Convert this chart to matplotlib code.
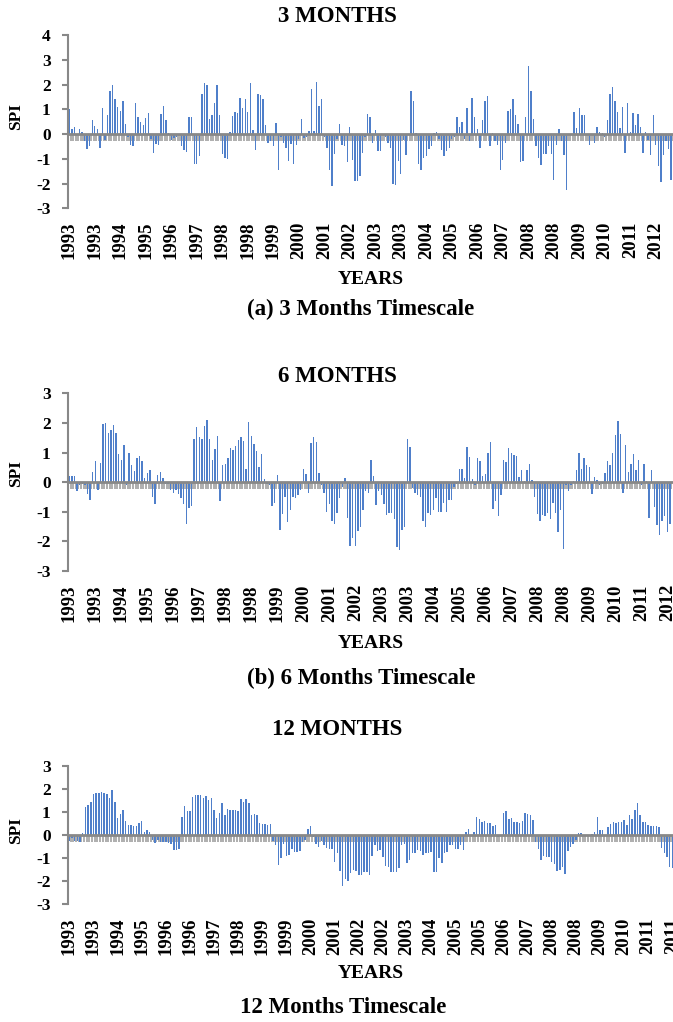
import matplotlib
matplotlib.use('Agg')
import matplotlib.pyplot as plt
import numpy as np

plt.rcParams['font.family'] = ['Liberation Serif', 'DejaVu Serif']
plt.rcParams['font.weight'] = 'bold'
plt.rcParams['axes.unicode_minus'] = False

# ---- data (monthly SPI values) ----
spi3 = [1.0, 0.2, 0.3, -0.05, 0.2, 0.1, -0.3, -0.6, -0.5, 0.55,
        0.33, 0.2, -0.55, 1.05, -0.25, 0.75, 1.75, 2.0, 1.4, 1.1,
        0.95, 1.35, 0.4, -0.1, -0.45, -0.5, 1.25, 0.7, 0.5, 0.35,
        0.65, 0.85, -0.2, -0.75, -0.4, -0.45, 0.8, 1.15, 0.55, 0.05,
        -0.25, -0.15, -0.1, -0.05, -0.5, -0.65, -0.72, 0.68, 0.7, -1.2,
        -1.2, -0.9, 1.6, 2.05, 2.0, 0.6, 0.75, 1.25, 2.0, 0.78,
        -0.8, -0.95, -1.0, 0.1, 0.72, 0.9, 0.85, 1.45, 1.05, 1.4,
        0.9, 2.05, 0.15, -0.65, 1.6, 1.58, 1.4, 0.38, -0.38, -0.3,
        -0.5, 0.45, -1.45, -0.1, -0.35, -0.55, -1.1, -0.4, -1.2, -0.45,
        -0.2, 0.62, -0.15, -0.1, 0.12, 1.8, 0.12, 2.12, 1.15, 1.4,
        -0.1, -0.55, -1.45, -2.1, -0.8, -0.2, 0.4, -0.45, -0.5, -1.15,
        0.3, -1.05, -1.9, -1.9, -1.7, -0.75, -0.1, 0.8, 0.7, -0.35,
        0.15, -0.7, -0.7, -0.05, -0.1, -0.35, -0.55, -2.0, -2.05, -1.1,
        -1.6, -0.25, -0.85, -0.05, 1.75, 1.35, 0.05, -1.2, -1.45, -0.95,
        -0.9, -0.6, -0.5, 0.05, 0.1, -0.2, -0.65, -0.9, -0.7, -0.55,
        -0.2, -0.1, 0.68, 0.3, 0.5, -0.2, 1.05, -0.3, 1.45, 0.7,
        0.2, -0.55, 0.55, 1.35, 1.55, -0.5, 0.05, -0.3, -0.45, -1.45,
        -1.05, -0.35, 0.95, 1.0, 1.4, 0.75, 0.42, -1.15, -1.1, 0.7,
        2.75, 1.75, 0.6, -0.5, -0.95, -1.25, -0.8, -0.8, -0.5, -0.8,
        -1.85, -0.45, 0.22, -0.3, -0.85, -2.25, -0.05, 0.0, 0.9, 0.25,
        1.05, 0.75, 0.75, -0.05, -0.45, -0.05, -0.35, 0.3, 0.1, 0.05,
        -0.1, 0.55, 1.6, 1.9, 1.35, 0.9, 0.25, 1.1, -0.75, 1.25,
        0.1, 0.85, 0.35, 0.8, 0.3, -0.75, 0.1, -0.25, -0.85, 0.78,
        -0.45, -1.3, -1.95, -0.85, -0.3, -0.6, -1.85]

spi6 = [0.2, 0.2, 0.2, -0.3, -0.1, -0.05, -0.1, -0.4, -0.6, 0.35,
        0.72, -0.25, 0.65, 1.97, 2.0, 1.65, 1.77, 1.92, 1.65, 0.95,
        0.75, 1.25, -0.1, 1.0, 0.57, 0.38, 0.83, 0.88, 0.7, 0.15,
        0.3, 0.4, -0.5, -0.75, 0.25, 0.35, 0.15, -0.05, -0.05, -0.25,
        -0.35, -0.25, -0.4, -0.55, -0.75, -1.4, -0.88, -0.8, 1.45, 1.87,
        1.52, 1.45, 1.9, 2.1, 1.45, 0.75, 1.12, 1.55, -0.65, 0.57,
        0.6, 0.8, 1.15, 1.08, 1.23, 1.42, 1.53, 1.4, 0.45, 2.02,
        1.55, 1.3, 1.05, 0.5, 0.95, 0.1, -0.05, -0.1, -0.8, -0.7,
        0.25, -1.6, -1.08, -0.5, -1.35, -0.95, -0.5, -0.55, -0.45, -0.25,
        0.45, 0.27, -0.35, 1.32, 1.52, 1.37, 0.3, -0.1, -0.35, -1.0,
        -0.75, -1.3, -1.4, -1.05, -0.55, -0.15, 0.15, -1.2, -2.15, -1.9,
        -2.15, -1.65, -1.5, -0.95, -0.3, -0.35, 0.75, 0.2, -0.78, -0.3,
        -0.45, -0.75, -1.1, -1.05, -1.05, -1.25, -2.2, -2.3, -1.6, -1.5,
        1.45, 1.2, -0.2, -0.35, -0.45, -0.5, -1.3, -1.5, -1.05, -1.1,
        -0.95, -0.55, -1.0, -1.0, -0.7, -1.0, -0.6, -0.6, -0.15, -0.05,
        0.45, 0.45, 0.15, 1.2, 0.85, 0.12, -0.1, 0.83, 0.73, 0.22,
        0.28, 1.0, 1.35, -0.92, -0.65, -1.15, -0.45, 0.75, 0.68, 1.15,
        1.0, 0.92, 0.88, 0.17, 0.4, 0.05, 0.4, 0.62, 0.08, -0.5,
        -1.08, -1.3, -1.1, -1.15, -1.05, -1.25, -0.7, -1.05, -1.7, -0.95,
        -2.25, -0.1, -0.3, -0.1, 0.05, 0.4, 1.0, 0.43, 0.82, 0.58,
        0.52, -0.4, 0.17, 0.07, -0.1, -0.05, 0.3, 0.7, 0.58, 1.0,
        1.6, 2.05, 1.62, -0.35, 1.25, 0.35, 0.62, 0.95, 0.42, 0.75,
        -0.1, 0.6, 0.05, -1.2, 0.42, -0.85, -1.45, -1.8, -1.3, -1.15,
        -1.7, -1.4]

spi12 = [-0.25, -0.15, -0.25, -0.25, -0.3, 0.1, 1.2, 1.32, 1.45, 1.77,
         1.8, 1.82, 1.85, 1.83, 1.77, 1.6, 1.95, 1.42, 0.72, 0.9,
         1.1, 0.62, 0.45, 0.45, 0.38, 0.38, 0.5, 0.6, 0.12, 0.2,
         0.15, -0.2, -0.35, -0.2, -0.3, -0.3, -0.3, -0.35, -0.4, -0.65,
         -0.65, -0.6, 0.8, 1.25, 1.05, 1.05, 1.65, 1.75, 1.75, 1.72,
         1.6, 1.7, 1.5, 1.62, 1.1, 0.72, 0.97, 1.4, 0.85, 1.13,
         1.1, 1.1, 1.1, 1.05, 1.57, 1.45, 1.58, 1.4, 0.85, 0.92,
         0.85, 0.53, 0.48, 0.48, 0.45, 0.47, -0.25, -0.45, -1.3, -1.0,
         -0.4, -0.9, -0.88, -0.6, -0.75, -0.72, -0.68, -0.3, -0.2, 0.25,
         0.4, -0.1, -0.4, -0.5, -0.25, -0.45, -0.55, -0.62, -0.6, -1.15,
         -0.8, -1.55, -2.2, -1.9, -2.0, -1.65, -1.5, -1.55, -1.75,
         -1.75, -1.6, -1.6, -1.75, -0.9, -0.45, -0.7, -0.65, -0.95, -1.35,
         -1.4, -1.6, -1.6, -1.6, -1.45, -0.45, -0.4, -1.2, -1.1, -0.8,
         -0.8, -0.65, -0.7, -0.85, -0.8, -0.78, -0.75, -1.6, -1.6, -1.0,
         -1.2, -0.8, -0.75, -0.45, -0.45, -0.6, -0.6, -0.45, -0.65, 0.15,
         0.27, -0.05, 0.15, 0.78, 0.68, 0.58, 0.6, 0.52, 0.52, 0.38,
         0.43, -0.1, -0.05, 0.95, 1.05, 0.68, 0.75, 0.55, 0.58, 0.52,
         0.62, 0.95, 0.92, 0.88, 0.65, -0.3, -0.6, -1.1, -0.9, -0.95,
         -0.95, -1.15, -1.25, -1.55, -1.5, -1.4, -1.7, -0.7, -0.5, -0.4,
         -0.2, 0.1, 0.1, 0.0, -0.05, -0.05, 0.05, 0.12, 0.8, 0.2,
         0.2, -0.05, 0.35, 0.48, 0.58, 0.5, 0.55, 0.55, 0.65, 0.45,
         0.85, 0.7, 1.1, 1.4, 0.85, 0.58, 0.55, 0.45, 0.4, 0.4,
         0.38, 0.35, -0.55, -0.8, -0.95, -1.4, -1.45]

labels_a = ['1993', '1993', '1994', '1995', '1996', '1997', '1998', '1998',
            '1999', '2000', '2001', '2002', '2003', '2003', '2004', '2005',
            '2006', '2007', '2008', '2008', '2009', '2010', '2011', '2012']
labels_b = list(labels_a)
labels_c = ['1993', '1993', '1994', '1995', '1996', '1996', '1997', '1998',
            '1999', '1999', '2000', '2001', '2002', '2002', '2003', '2004',
            '2005', '2005', '2006', '2007', '2008', '2008', '2009', '2010',
            '2011', '2011']

titles = ['3 MONTHS', '6 MONTHS', '12 MONTHS']
captions = ['(a) 3 Months Timescale', '(b) 6 Months Timescale', '12 Months Timescale']

# ---- layout (pixels) ----
W, H = 673, 1022
fig = plt.figure(figsize=(W / 100, H / 100), dpi=100)
fig.patch.set_facecolor('white')

BAR = '#4f7fca'
GREY = '#888888'
COMB = '#9c9c9c'
AX_LEFT = 68.0

panels = [
    dict(data=spi3, labels=labels_a, step=10, ylim=(-3, 4), top=35.0, bottom=208.3,
         spacing=2.55, title_y=17, spi_y=117, years_y=280, cap_x=361, cap_y=309),
    dict(data=spi6, labels=labels_b, step=10, ylim=(-3, 3), top=393.3, bottom=571.0,
         spacing=2.60, title_y=376, spi_y=474, years_y=643, cap_x=361, cap_y=678),
    dict(data=spi12, labels=labels_c, step=9, ylim=(-3, 3), top=765.7, bottom=904.3,
         spacing=2.68, title_y=729, spi_y=831, years_y=973, cap_x=343, cap_y=1007),
]


def fx(px):
    return px / W


def fy(py):
    return 1 - py / H


for p, title, cap in zip(panels, titles, captions):
    width_px = W - AX_LEFT
    ax = fig.add_axes([fx(AX_LEFT), fy(p['bottom']), width_px / W,
                       (p['bottom'] - p['top']) / H])
    ax.set_facecolor('none')
    data = np.array(p['data'])
    x = np.arange(len(data))
    xmax = -0.5 + width_px / p['spacing']

    # category tick comb below the zero line
    bounds = np.arange(-0.5, xmax + 1, 1.0)
    ax.plot(bounds, np.zeros_like(bounds), linestyle='none', marker=3,
            markersize=4.8, markeredgewidth=1.15, color=COMB, zorder=1,
            clip_on=True)
    ax.bar(x, data, width=0.55, color=BAR, linewidth=0, zorder=2)
    ax.axhline(0, color=GREY, lw=2.0, zorder=3)

    ax.set_xlim(-0.5, xmax)
    ax.set_ylim(*p['ylim'])
    yt = list(range(p['ylim'][0], p['ylim'][1] + 1))
    ax.set_yticks(yt)
    ax.set_yticklabels([str(v) for v in yt], fontsize=12.5, fontweight='bold')
    ax.tick_params(axis='y', direction='out', length=4.5, width=1.5,
                   color=GREY, pad=8)

    xt = np.arange(len(p['labels'])) * p['step']
    ax.set_xticks(xt)
    ax.set_xticklabels(p['labels'], rotation=90, fontsize=13.5, fontweight='bold')
    ax.tick_params(axis='x', length=0, pad=9.5)

    for s in ['top', 'right', 'bottom']:
        ax.spines[s].set_visible(False)
    ax.spines['left'].set_color(GREY)
    ax.spines['left'].set_linewidth(1.5)

    fig.text(fx(337), fy(p['title_y']), title, ha='center', va='center',
             fontsize=16.5, fontweight='bold')
    fig.text(fx(16.5), fy(p['spi_y']), 'SPI', ha='center', va='center',
             rotation=90, fontsize=12.5, fontweight='bold')
    fig.text(fx(371), fy(p['years_y']), 'YEARS', ha='center', va='center',
             fontsize=14, fontweight='bold')
    fig.text(fx(p['cap_x']), fy(p['cap_y']), cap, ha='center', va='center',
             fontsize=16.5, fontweight='bold')

fig.savefig('out.png', dpi=100, facecolor='white')
